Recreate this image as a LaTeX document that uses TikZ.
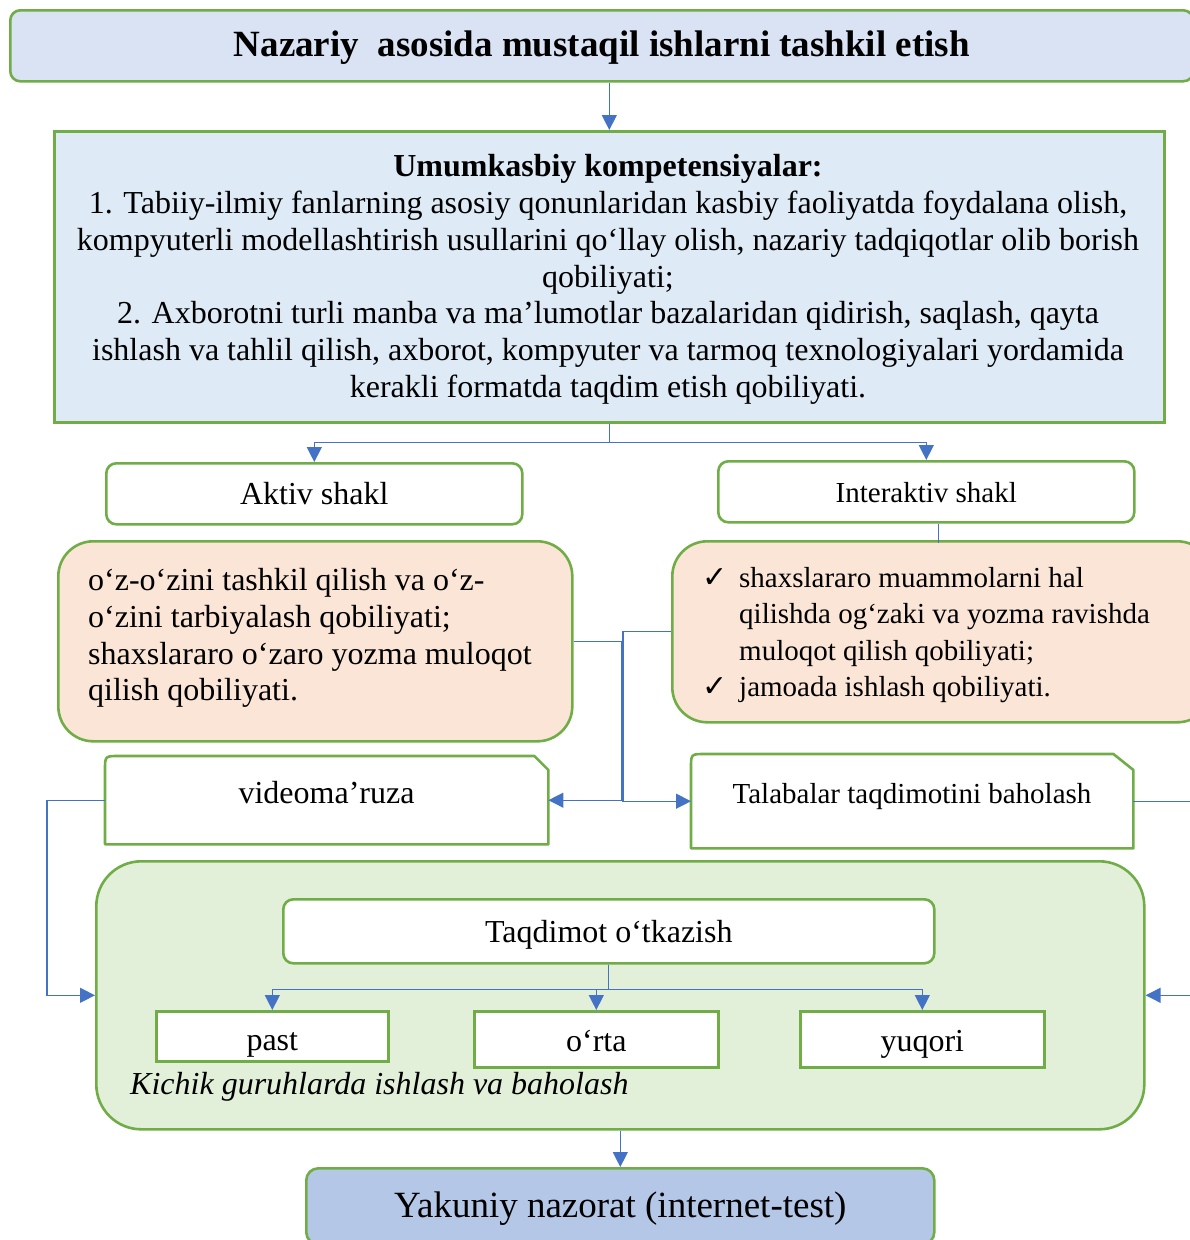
\documentclass[tikz,border=0pt]{standalone}
\usepackage{fontspec}
\setmainfont{Liberation Serif}
\newfontfamily\djv{DejaVu Sans}
\usetikzlibrary{arrows.meta,calc}
\definecolor{gborder}{HTML}{70AD47}
\definecolor{arrowblue}{HTML}{4472C4}
\definecolor{titlefill}{HTML}{DAE3F3}
\definecolor{bigfill}{HTML}{DEEBF7}
\definecolor{peach}{HTML}{FBE5D6}
\definecolor{greenfill}{HTML}{E2F0D9}
\definecolor{yakfill}{HTML}{B4C7E7}
\newcommand\myfs[2]{\fontsize{#1}{#2}\selectfont}
\begin{document}
\begin{tikzpicture}[x=1pt,y=-1pt,
  gbox/.style={draw=gborder, line width=2.6pt, inner sep=0pt, anchor=north west},
  snipbox/.style={draw=none, inner sep=0pt, anchor=north west},
  snipline/.style={draw=gborder, line width=2.6pt, fill=white, line join=round},
  conn/.style={draw=arrowblue, line width=1.3pt, -{Triangle[length=15pt,width=15pt]}},
  plainconn/.style={draw=arrowblue, line width=1.3pt},
  txt/.style={text height=26pt, text depth=4pt}
]
\clip (0,0) rectangle (1190,1240);

% title
\node[gbox, fill=titlefill, rounded corners=10pt, minimum width=1183pt, minimum height=71pt,
      font=\bfseries\myfs{37}{42}, txt] (title) at (9,9) {Nazariy~~asosida mustaqil ishlarni tashkil etish};

% big box
\node[gbox, fill=bigfill, minimum width=1110pt, minimum height=291pt] (big) at (53,130) {};
\node[align=center, inner sep=0pt, font=\myfs{32}{36.8}] (bigt) at (608,279.5)
 {\textbf{Umumkasbiy kompetensiyalar:}\\
  1. Tabiiy-ilmiy fanlarning asosiy qonunlaridan kasbiy faoliyatda foydalana olish,\\
  kompyuterli modellashtirish usullarini qo‘llay olish, nazariy tadqiqotlar olib borish\\
  qobiliyati;\\
  2. Axborotni turli manba va ma’lumotlar bazalaridan qidirish, saqlash, qayta\\
  ishlash va tahlil qilish, axborot, kompyuter va tarmoq texnologiyalari yordamida\\
  kerakli formatda taqdim etish qobiliyati.};

% forms
\node[gbox, fill=white, rounded corners=10pt, minimum width=416pt, minimum height=61pt,
      font=\myfs{32}{36}, txt] (aktiv) at (105,462) {Aktiv shakl};
\node[gbox, fill=white, rounded corners=10pt, minimum width=416pt, minimum height=61pt,
      font=\myfs{29}{33}, txt] (inter) at (717,460) {Interaktiv shakl};

% peach boxes
\node[gbox, fill=peach, rounded corners=35pt, minimum width=514pt, minimum height=200pt] (lp) at (57,540) {};
\node[anchor=west, align=left, inner sep=0pt, font=\myfs{32}{36.8}] (lpt) at (88,638)
 {o‘z-o‘zini tashkil qilish va o‘z-\\
  o‘zini tarbiyalash qobiliyati;\\
  shaxslararo o‘zaro yozma muloqot\\
  qilish qobiliyati.};

\node[gbox, fill=peach, rounded corners=35pt, minimum width=540pt, minimum height=181pt] (rp) at (671,540) {};
\node[anchor=west, align=left, inner sep=0pt, font=\myfs{29}{36.3}] (rpt) at (702,635)
 {\makebox[37pt][l]{\djv\myfs{30}{30}✓}shaxslararo muammolarni hal\\
  \hspace*{37pt}qilishda og‘zaki va yozma ravishda\\
  \hspace*{37pt}muloqot qilish qobiliyati;\\
  \makebox[37pt][l]{\djv\myfs{30}{30}✓}jamoada ishlash qobiliyati.};

% snipped boxes
\node[snipbox, minimum width=443pt, minimum height=88pt] (vid) at (105,756) {};
\draw[snipline] (vid.south west) -- ($(vid.north west)+(0,14)$) .. controls (vid.north west) .. ($(vid.north west)+(14,0)$)
  -- ($(vid.north east)+(-14,0)$) -- ($(vid.north east)+(0,14)$) -- (vid.south east) -- cycle;
\node[font=\myfs{32}{36}, txt] (vidt) at (326.5,792) {videoma’ruza};

\node[snipbox, minimum width=442pt, minimum height=94pt] (tal) at (691,754) {};
\draw[snipline] (tal.south west) -- ($(tal.north west)+(0,14)$) .. controls (tal.north west) .. ($(tal.north west)+(14,0)$)
  -- ($(tal.north east)+(-20,0)$) -- ($(tal.north east)+(0,16)$) -- (tal.south east) -- cycle;
\node[font=\myfs{29}{33}, txt] (talt) at (912,792) {Talabalar taqdimotini baholash};

% green group
\node[gbox, fill=greenfill, rounded corners=45pt, minimum width=1048pt, minimum height=268pt] (grn) at (95,860) {};
\node[gbox, fill=white, rounded corners=10pt, minimum width=651pt, minimum height=64pt,
      font=\myfs{32}{36}, txt] (taq) at (282,898) {Taqdimot o‘tkazish};
\node[gbox, fill=white, minimum width=232pt, minimum height=50pt, font=\myfs{32}{36},
      text height=30pt, text depth=2pt] (past) at (155,1010) {past};
\node[gbox, fill=white, minimum width=244pt, minimum height=56pt, font=\myfs{32}{36},
      text height=26pt, text depth=2pt] (orta) at (473,1010) {o‘rta};
\node[gbox, fill=white, minimum width=244pt, minimum height=56pt, font=\myfs{32}{36},
      text height=26pt, text depth=2pt] (yuq) at (799,1010) {yuqori};
\node[anchor=base west, inner sep=0pt, font=\itshape\myfs{32}{36}] (kich) at (130,1094) {Kichik guruhlarda ishlash va baholash};

% final
\node[gbox, fill=yakfill, rounded corners=12pt, minimum width=628pt, minimum height=76pt,
      font=\myfs{37}{42}, txt] (yak) at (305,1167) {Yakuniy nazorat (internet-test)};

% connectors
\draw[conn] (title.south -| big.north) -- (big.north);
\draw[conn] (big.south) -- ++(0,19) -| (aktiv.north);
\draw[conn] (big.south) -- ++(0,19) -| (inter.north);
\draw[plainconn] ($(inter.south)+(12,0)$) -- ++(0,19);
\draw[conn] (lp.east) -- ++(48,0) |- (vid.east);
\draw[conn] (rp.west) -- ++(-48,0) |- (tal.west);
\draw[conn] (vid.west) -- ++(-58,0) |- (grn.west);
\draw[conn] (tal.east) -- ++(75,0) |- (grn.east);
\draw[conn] (taq.south) -- ++(0,25) -| (past.north);
\draw[conn] (taq.south) -- ++(0,25) -| (orta.north);
\draw[conn] (taq.south) -- ++(0,25) -| (yuq.north);
\draw[conn] (grn.south -| yak.north) -- (yak.north);
\end{tikzpicture}
\end{document}
